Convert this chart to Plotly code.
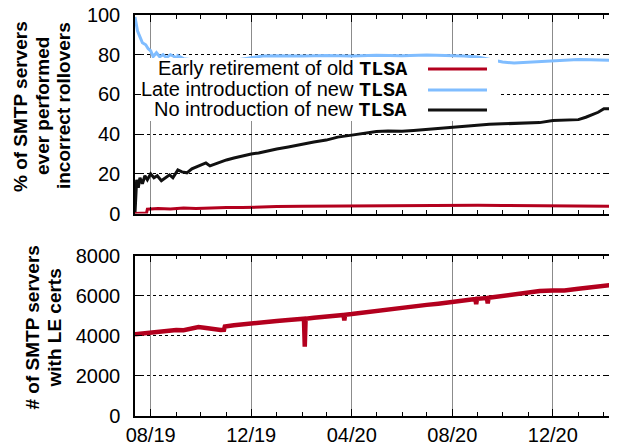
import plotly.graph_objects as go
from plotly.subplots import make_subplots

# top panel: % of SMTP servers that ever performed incorrect rollovers
early_dates = ["2019-07-13", "2019-07-27", "2019-07-28", "2019-08-10", "2019-08-25", "2019-09-10",
               "2019-09-25", "2019-10-10", "2019-11-01", "2019-11-20", "2019-12-10", "2020-01-01",
               "2020-02-01", "2020-03-01", "2020-04-01", "2020-05-01", "2020-06-01", "2020-07-01",
               "2020-08-01", "2020-09-01", "2020-10-01", "2020-11-01", "2020-12-01", "2021-01-01",
               "2021-02-01", "2021-02-12"]
early_vals = [0, 0.3, 2.2, 2.5, 2.3, 2.8, 2.6, 2.9, 3.1, 3.0, 3.3, 3.5,
              3.7, 3.8, 4.0, 4.1, 4.0, 4.2, 4.4, 4.2, 4.1, 4.0, 3.8, 3.7, 3.6, 3.6]

late_dates = ["2019-07-13", "2019-07-14", "2019-07-16", "2019-07-19", "2019-07-22", "2019-07-26",
              "2019-07-29", "2019-08-01", "2019-08-04", "2019-08-08", "2019-08-12", "2019-08-16",
              "2019-08-20", "2019-08-25", "2019-08-30", "2019-09-01", "2019-09-03", "2019-09-10",
              "2019-09-20", "2019-10-01", "2019-10-15", "2019-11-01", "2019-11-15", "2019-12-01",
              "2019-12-15", "2020-01-01", "2020-02-01", "2020-03-01", "2020-04-01", "2020-05-01",
              "2020-06-01", "2020-07-01", "2020-08-01", "2020-08-15", "2020-09-01", "2020-09-15",
              "2020-10-01", "2020-10-15", "2020-11-01", "2020-11-15", "2020-12-01", "2020-12-15",
              "2021-01-01", "2021-01-15", "2021-02-01", "2021-02-12"]
late_vals = [99, 96, 92, 89, 86, 85, 83, 82, 79, 81, 79, 80,
             78.5, 80, 79, 76, 79.5, 78, 77.5, 77.5, 77, 77, 77.5, 78.5,
             79.3, 79.5, 79.3, 79.6, 79.4, 79.7, 79.5, 79.8, 79.6, 79.4, 78.8, 77.5,
             76.3, 75.8, 76.2, 76.6, 77, 77.3, 77.6, 77.4, 77.1, 77.1]

none_dates = ["2019-07-13", "2019-07-14", "2019-07-15", "2019-07-17", "2019-07-19", "2019-07-22",
              "2019-07-25", "2019-07-28", "2019-08-01", "2019-08-05", "2019-08-09", "2019-08-14",
              "2019-08-19", "2019-08-24", "2019-08-28", "2019-09-03", "2019-09-08", "2019-09-14",
              "2019-09-20", "2019-09-26", "2019-10-01", "2019-10-07", "2019-10-12", "2019-10-18",
              "2019-10-25", "2019-11-01", "2019-11-10", "2019-11-20", "2019-12-01", "2019-12-10",
              "2019-12-20", "2020-01-01", "2020-01-15", "2020-02-01", "2020-02-15", "2020-03-01",
              "2020-03-15", "2020-04-01", "2020-04-15", "2020-05-01", "2020-05-15", "2020-06-01",
              "2020-06-15", "2020-07-01", "2020-07-15", "2020-08-01", "2020-08-15", "2020-09-01",
              "2020-09-15", "2020-10-01", "2020-10-15", "2020-11-01", "2020-11-15", "2020-12-01",
              "2020-12-15", "2021-01-01", "2021-01-10", "2021-01-18", "2021-01-25", "2021-02-01",
              "2021-02-12"]
none_vals = [0, 10, 17, 13, 18, 15, 19, 17, 20, 18, 19, 16.5,
             18, 19.5, 18, 22, 21, 20.5, 22.5, 23.5, 24.5, 25.5, 24, 25,
             26, 27, 28, 29, 30, 30.5, 31.5, 32.5, 33.5, 35, 36, 37,
             38.5, 39.5, 40.5, 41.3, 41.6, 41.4, 41.8, 42.4, 43, 43.5, 44, 44.5,
             45, 45.2, 45.3, 45.5, 45.8, 46.8, 47, 47.3, 48.5, 50, 51, 52.8, 52.8]

# bottom panel: # of SMTP servers with LE certs
le_dates = ["2019-07-13", "2019-07-25", "2019-08-05", "2019-08-20", "2019-09-01", "2019-09-10",
            "2019-09-20", "2019-09-28", "2019-10-05", "2019-10-15", "2019-10-25", "2019-10-29",
            "2019-10-30", "2019-11-10", "2019-11-20", "2019-12-01", "2019-12-15", "2020-01-01",
            "2020-01-15", "2020-02-01", "2020-02-03", "2020-02-04", "2020-02-05", "2020-02-15",
            "2020-03-01", "2020-03-15", "2020-03-22", "2020-03-23", "2020-03-24", "2020-04-01",
            "2020-04-15", "2020-05-01", "2020-05-15", "2020-06-01", "2020-06-15", "2020-07-01",
            "2020-07-15", "2020-08-01", "2020-08-15", "2020-08-29", "2020-08-30", "2020-08-31",
            "2020-09-12", "2020-09-13", "2020-09-14", "2020-10-01", "2020-10-15", "2020-11-01",
            "2020-11-15", "2020-12-01", "2020-12-15", "2021-01-01", "2021-01-15", "2021-02-01",
            "2021-02-12"]
le_vals = [4070, 4120, 4170, 4250, 4290, 4280, 4360, 4430, 4400, 4320, 4290, 4300,
           4460, 4520, 4570, 4620, 4680, 4740, 4790, 4840, 4850, 3450, 4850, 4900,
           4960, 5010, 5040, 4760, 5050, 5080, 5150, 5260, 5330, 5440, 5490, 5540,
           5600, 5690, 5750, 5830, 5570, 5840, 5880, 5610, 5890, 5980, 6060, 6170,
           6230, 6260, 6260, 6340, 6410, 6470, 6540]

RED = "#b3001e"
BLUE = "#80bdff"
BLACK = "#111111"
FONT = "Liberation Sans, Arial, sans-serif"

fig = make_subplots(rows=2, cols=1, shared_xaxes=True, vertical_spacing=0.1047,
                    row_heights=[0.5461, 0.4414])

fig.add_trace(go.Scatter(x=late_dates, y=late_vals, mode="lines",
                         line=dict(color=BLUE, width=3)), row=1, col=1)
fig.add_trace(go.Scatter(x=none_dates, y=none_vals, mode="lines",
                         line=dict(color=BLACK, width=3)), row=1, col=1)
fig.add_trace(go.Scatter(x=early_dates, y=early_vals, mode="lines",
                         line=dict(color=RED, width=3)), row=1, col=1)
fig.add_trace(go.Scatter(x=le_dates, y=le_vals, mode="lines",
                         line=dict(color=RED, width=4.5)), row=2, col=1)

# x grid left solid (a dotted date grid next to minor ticks did not render), lighter to read as dotted
xcommon = dict(
    range=["2019-07-13", "2021-02-12"], tick0="2019-08-01", dtick="M4",
    tickformat="%m/%y", ticks="inside", ticklen=7, tickwidth=1, tickcolor="black",
    minor=dict(dtick="M1", ticks="inside", ticklen=4, tickcolor="black"),
    showgrid=True, gridcolor="rgba(0,0,0,0.45)", gridwidth=1,
    showline=True, linecolor="black", linewidth=1.5, mirror="allticks",
    zeroline=False, automargin=False, ticklabelstandoff=0, ticklabeloverflow="allow",
)
fig.update_xaxes(**xcommon)
fig.update_xaxes(showticklabels=False, row=1, col=1)

ycommon = dict(
    ticks="inside", ticklen=7, tickcolor="black", showgrid=True, gridcolor="black",
    gridwidth=1, griddash="dot", showline=True, linecolor="black", linewidth=1.5,
    mirror="allticks", zeroline=False, automargin=False, ticklabelstandoff=9,
    ticklabeloverflow="allow",
)
fig.update_yaxes(**ycommon)
fig.update_yaxes(range=[0, 100], dtick=20, row=1, col=1)
fig.update_yaxes(range=[0, 8000], dtick=2000, row=2, col=1)

# y titles, one annotation per line for tight spacing
titles = [
    ("% of SMTP servers", -0.2406, 0.773),
    ("ever performed", -0.1946, 0.773),
    ("incorrect rollovers", -0.1506, 0.773),
    ("# of SMTP servers", -0.2134, 0.2207),
    ("with LE certs", -0.1674, 0.2207),
]
for txt, xx, yy in titles:
    fig.add_annotation(text="<b>" + txt + "</b>", x=xx, y=yy, xref="paper", yref="paper",
                       textangle=-90, showarrow=False, xanchor="center", yanchor="middle",
                       font=dict(size=19, family=FONT, color="black"))

# key: opaque box, right-aligned text, samples on the right
fig.add_shape(type="rect", xref="paper", yref="paper", x0=0.0126, x1=0.7594, y0=0.7357, y1=0.8928,
              fillcolor="white", line_width=0, layer="above")
key = [
    ("Early retirement of old ", RED, 0.8653),
    ("Late introduction of new ", BLUE, 0.8130),
    ("No introduction of new ", BLACK, 0.7631),
]
for label, col, yy in key:
    fig.add_annotation(
        text=label + '<span style="font-family:Liberation Mono;font-weight:bold">TLSA</span>',
        x=0.5732, y=yy, xref="paper", yref="paper", showarrow=False,
        xanchor="right", yanchor="middle", font=dict(size=20, family=FONT, color="black"))
    fig.add_shape(type="line", xref="paper", yref="paper", x0=0.613, x1=0.7364, y0=yy, y1=yy,
                  line=dict(color=col, width=3), layer="above")

# page body keeps its default 8px margin, so the figure is 8px smaller and shifted
fig.update_layout(
    width=609, height=438, showlegend=False,
    margin=dict(l=127, r=4, t=7, b=30),
    paper_bgcolor="white", plot_bgcolor="white",
    font=dict(family=FONT, size=20, color="black"),
)

fig.write_html("out.html")
